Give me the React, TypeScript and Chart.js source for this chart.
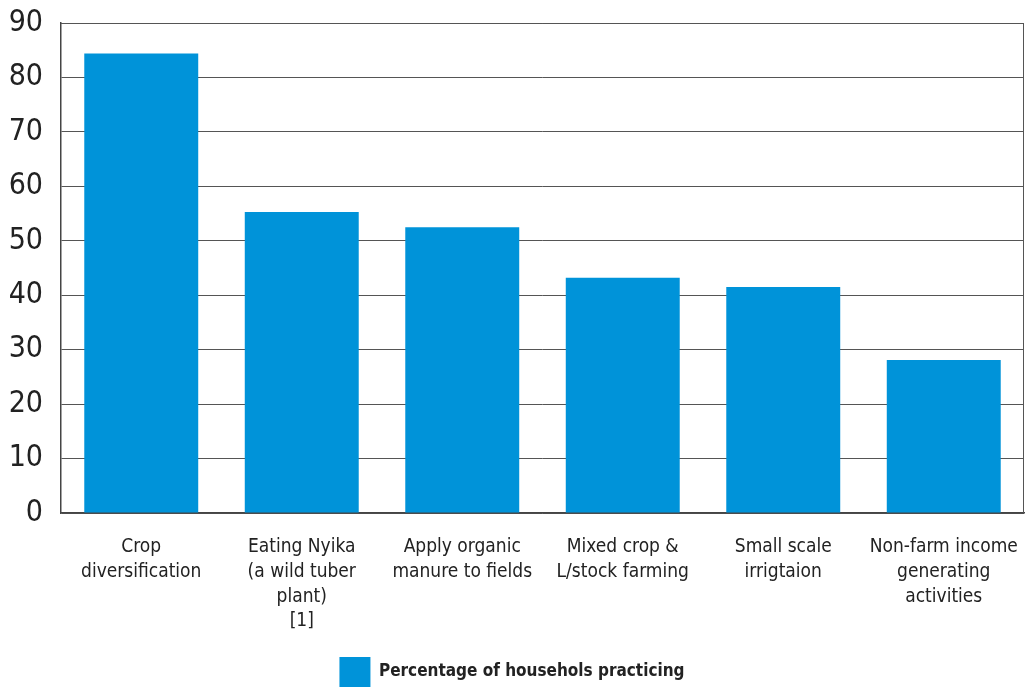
import React, { useEffect, useRef } from "react";
import { Chart, registerables } from "chart.js";

Chart.register(...registerables);

const categories: string[][] = [
  ["Crop", "diversification"],
  ["Eating Nyika", "(a wild tuber", "plant)", "[1]"],
  ["Apply organic", "manure to fields"],
  ["Mixed crop &", "L/stock farming"],
  ["Small scale", "irrigtaion"],
  ["Non-farm income", "generating", "activities"],
];
const seriesLabel = "Percentage of househols practicing";
const values = [84.4, 55.3, 52.5, 43.2, 41.5, 28.1];
const yTicks = [0, 10, 20, 30, 40, 50, 60, 70, 80, 90];

const FONT = "'DejaVu Sans Condensed', 'Liberation Sans Narrow', sans-serif";
const BLUE = "#0093d9";

export default function App() {
  const ref = useRef<HTMLCanvasElement>(null);
  useEffect(() => {
    if (!ref.current) return;
    const chart = new Chart(ref.current, {
      type: "bar",
      data: {
        labels: categories,
        datasets: [
          {
            label: seriesLabel,
            data: values,
            backgroundColor: BLUE,
            borderWidth: 0,
            categoryPercentage: 0.71,
            barPercentage: 1,
          },
        ],
      },
      options: {
        animation: false,
        responsive: false,
        maintainAspectRatio: false,
        layout: { padding: { top: 23, right: 2, left: 0, bottom: -10 } },
        plugins: {
          tooltip: { enabled: false },
          legend: {
            position: "bottom",
            labels: {
              boxWidth: 31,
              boxHeight: 30,
              padding: 0,
              color: "#222",
              font: { family: FONT, size: 17, weight: "bold" },
            },
          },
        },
        scales: {
          x: {
            grid: { display: false, drawTicks: false },
            border: { color: "#444", width: 1.5 },
            ticks: {
              color: "#222",
              font: { family: FONT, size: 19, lineHeight: 1.3 },
              padding: 22,
              maxRotation: 0,
              autoSkip: false,
            },
            afterFit: (s: any) => {
              s.height = 144;
              s.paddingLeft = 0;
              s.paddingRight = 0;
            },
          },
          y: {
            min: 0,
            max: 90,
            afterBuildTicks: (s: any) => {
              s.ticks = yTicks.map((v) => ({ value: v }));
            },
            grid: { color: "#555", lineWidth: 1, drawTicks: false },
            border: { color: "#444", width: 1.5 },
            ticks: {
              color: "#222",
              font: { family: FONT, size: 30 },
              padding: 18,
            },
            afterFit: (s: any) => {
              s.width = 61;
              s.paddingTop = 0;
              s.paddingBottom = 0;
            },
          },
        },
      },
      plugins: [
        {
          id: "frame",
          afterDraw: (c: any) => {
            const { ctx, chartArea } = c;
            ctx.save();
            ctx.strokeStyle = "#555";
            ctx.lineWidth = 1;
            ctx.beginPath();
            ctx.moveTo(chartArea.left, chartArea.top + 0.5);
            ctx.lineTo(chartArea.right - 0.5, chartArea.top + 0.5);
            ctx.lineTo(chartArea.right - 0.5, chartArea.bottom);
            ctx.stroke();
            ctx.restore();
          },
        },
      ],
    });
    return () => chart.destroy();
  }, []);
  return (
    <div style={{ position: "fixed", left: 0, top: 0, width: 1026, height: 687, background: "#fff" }}>
      <canvas ref={ref} width={1026} height={687} style={{ width: 1026, height: 687 }} />
    </div>
  );
}
